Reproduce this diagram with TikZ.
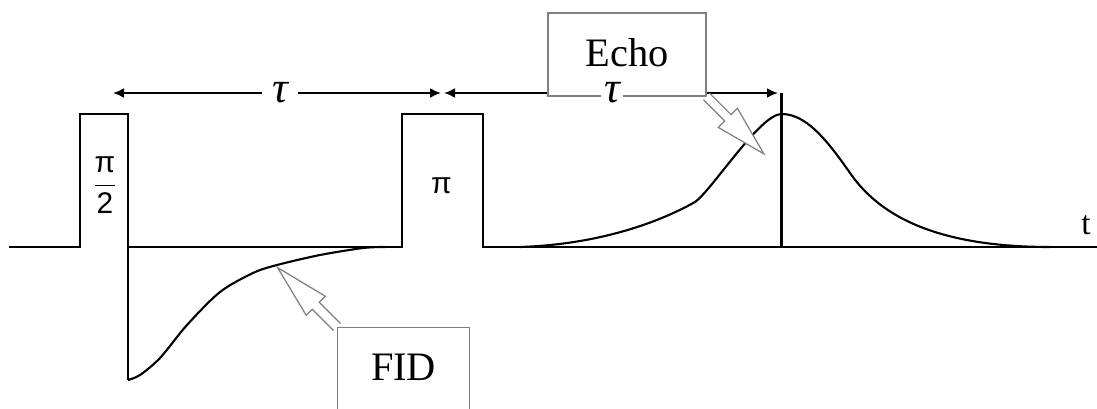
\RequirePackage{fix-cm}
\documentclass[tikz,border=0pt]{standalone}
\usepackage{amsmath}
\usepackage{fontspec}
\setmainfont{Liberation Serif}
\newfontfamily\pulsefont{Liberation Sans}
\usetikzlibrary{arrows.meta,calc,positioning}
\tikzset {
  >={Latex[length=2.2mm,width=2mm]},
  every node/.style={font=\small},
  signal/.style={line width=1.2pt},
  callout/.style={draw=gray,line width=.7pt,fill=white},
  boxlabel/.style={callout,inner sep=0pt,font=\fontsize{23}{27}\selectfont},
  taulabel/.style={fill=white,inner xsep=.6mm,inner ysep=.5mm,font=\fontsize{25}{30}\selectfont\itshape},
  pulselabel/.style={font=\pulsefont\fontsize{17}{20}\selectfont},
}

\begin{document}
\begin{tikzpicture}
  \useasboundingbox (0,-3.22) rectangle (21.94,4.94);
  \clip (0,-3.22) rectangle (21.94,4.94);

  % pulses and time axis
  \draw[signal] (0.18,0) -- (1.6,0) -- (1.6,2.66) -- (2.56,2.66) -- (2.56,-2.66);
  \draw[signal] (2.56,0) -- (8.04,0) -- (8.04,2.66) -- (9.66,2.66) -- (9.66,0) -- (21.94,0);
  \node (half) at (2.1,1.24)[pulselabel]{$\dfrac{\text{π}}{\text{2}}$};
  \node (full) at (8.83,1.22)[pulselabel]{π};
  \node (t) at (21.72,0.44)[font=\fontsize{19}{22}\selectfont]{t};

  % FID and echo
  \draw[signal] plot[smooth] coordinates {(2.56,-2.66) (2.8,-2.56) (3.2,-2.22) (3.74,-1.56)
    (4.4,-0.9) (5.06,-0.52) (5.54,-0.36) (6.4,-0.16) (7.26,-0.02) (7.7,0)};
  \draw[signal] (10.4,0) .. controls (11.9,0.05) and (13.1,0.45) .. (13.9,0.9)
    .. controls (14.25,1.15) and (15.2,2.66) .. (15.63,2.66)
    .. controls (16.1,2.66) and (16.5,2.2) .. (17,1.48)
    .. controls (17.5,0.76) and (18.5,0) .. (21,0);
  \coordinate (echotop) at (15.63,3.08);
  \draw[line width=1.5pt] (echotop) -- (echotop |- 0,0);

  % tau arrows
  \coordinate (a1) at (2.26,3.08);
  \coordinate (a2) at (8.82,3.08);
  \coordinate (a3) at (8.88,3.08);
  \coordinate (a4) at (15.56,3.08);
  \draw[signal,<->] (a1) -- (a2);
  \draw[signal,<->] (a3) -- (a4);

  \node (echo) at (12.54,3.85)[boxlabel,minimum width=3.16cm,minimum height=1.66cm,
    text height=.57cm,text depth=.11cm]{Echo};
  \node (tau1) at (5.6,3.08)[taulabel,inner xsep=2mm]{τ};
  \node (tau2) at (12.24,3.08)[taulabel]{τ};

  \node (fid) at (6.74,-1.6)[boxlabel,anchor=north west,minimum width=2.64cm,
    text height=.5cm,text depth=1.5cm,inner ysep=.56cm]{FID};

  % callout arrows
  \draw[callout,shift={(echo.south east)},rotate=-45]
    (0,-.09) -- (.6,-.09) -- (.6,-.27) -- (1.62,0) -- (.6,.27) -- (.6,.09) -- (0,.09);
  \draw[callout,shift={(fid.north west)},rotate=135]
    (0,-.1) -- (.6,-.1) -- (.6,-.27) -- (1.68,0) -- (.6,.27) -- (.6,.1) -- (0,.1);
\end{tikzpicture}
\end{document}
